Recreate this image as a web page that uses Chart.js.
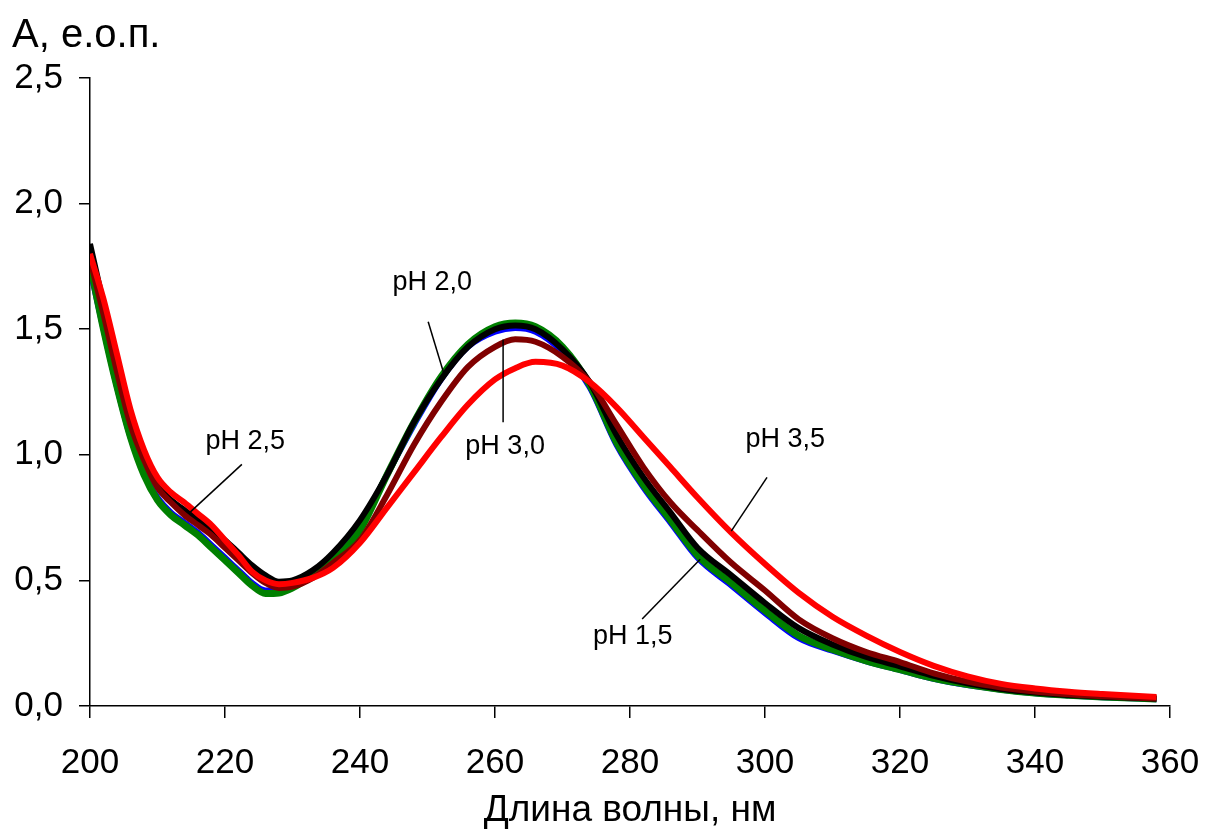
<!DOCTYPE html>
<html>
<head>
<meta charset="utf-8">
<script src="https://cdn.jsdelivr.net/npm/chart.js@4.4.0/dist/chart.umd.min.js"></script>
<style>
  html, body { margin: 0; padding: 0; background: #fff; }
  #wrap { width: 1207px; height: 833px; }
</style>
</head>
<body>
<div id="wrap"><canvas id="spektr"></canvas></div>
<script>
// длины волн, нм
const dlinyVoln = [200, 202, 204, 206, 208, 210, 212, 214, 216, 218, 220, 222, 224, 226, 228, 230, 233, 236, 240, 244, 248, 252, 256, 260, 263, 266, 270, 274, 278, 282, 286, 290, 295, 300, 305, 310, 315, 320, 325, 330, 335, 340, 345, 350, 358];

// оптическая плотность при разных pH
const pH15 = [1.74, 1.50, 1.27, 1.07, 0.93, 0.83, 0.77, 0.73, 0.69, 0.64, 0.59, 0.54, 0.49, 0.46, 0.46, 0.48, 0.53, 0.59, 0.72, 0.92, 1.12, 1.30, 1.43, 1.49, 1.505, 1.49, 1.41, 1.27, 1.04, 0.87, 0.73, 0.59, 0.48, 0.37, 0.27, 0.22, 0.178, 0.143, 0.108, 0.083, 0.065, 0.051, 0.042, 0.035, 0.027];
const pH20 = [1.76, 1.50, 1.27, 1.07, 0.92, 0.82, 0.76, 0.72, 0.68, 0.63, 0.58, 0.53, 0.48, 0.448, 0.45, 0.47, 0.52, 0.58, 0.70, 0.92, 1.13, 1.31, 1.44, 1.51, 1.525, 1.51, 1.43, 1.28, 1.05, 0.88, 0.74, 0.60, 0.49, 0.38, 0.28, 0.225, 0.18, 0.145, 0.11, 0.085, 0.066, 0.052, 0.043, 0.036, 0.028];
const pH25 = [1.84, 1.60, 1.36, 1.15, 0.99, 0.88, 0.82, 0.78, 0.74, 0.70, 0.66, 0.61, 0.56, 0.52, 0.495, 0.50, 0.54, 0.61, 0.74, 0.92, 1.13, 1.30, 1.43, 1.50, 1.515, 1.50, 1.42, 1.29, 1.08, 0.91, 0.77, 0.63, 0.52, 0.41, 0.31, 0.245, 0.195, 0.158, 0.12, 0.09, 0.068, 0.054, 0.044, 0.037, 0.029];
const pH30 = [1.78, 1.56, 1.33, 1.12, 0.98, 0.87, 0.81, 0.76, 0.72, 0.68, 0.63, 0.58, 0.53, 0.49, 0.47, 0.475, 0.51, 0.57, 0.66, 0.84, 1.04, 1.21, 1.35, 1.43, 1.46, 1.45, 1.39, 1.29, 1.12, 0.95, 0.81, 0.70, 0.57, 0.46, 0.345, 0.27, 0.215, 0.175, 0.13, 0.097, 0.074, 0.058, 0.047, 0.039, 0.030];
const pH35 = [1.80, 1.62, 1.40, 1.18, 1.02, 0.91, 0.85, 0.81, 0.765, 0.72, 0.66, 0.60, 0.535, 0.50, 0.485, 0.49, 0.51, 0.55, 0.65, 0.79, 0.93, 1.07, 1.20, 1.30, 1.345, 1.37, 1.355, 1.29, 1.19, 1.07, 0.95, 0.83, 0.69, 0.565, 0.45, 0.355, 0.28, 0.215, 0.16, 0.118, 0.088, 0.07, 0.057, 0.048, 0.036];

// подписи кривых: текст, центр текста и выноска (в единицах осей)
const podpisi = ['pH 2,0', 'pH 3,0', 'pH 2,5', 'pH 3,5', 'pH 1,5'];
const podpisX = [250.7, 261.5, 223.0, 303.0, 280.4];
const podpisY = [1.685, 1.033, 1.053, 1.061, 0.278];
const vynoskaOt = [[250.1, 1.53], [261.2, 1.13], [222.5, 0.962], [300.3, 0.91], [281.8, 0.346]];
const vynoskaDo = [[252.6, 1.308], [261.2, 1.459], [214.8, 0.771], [295.0, 0.696], [290.4, 0.584]];

const shrift = '"Liberation Sans", Arial, sans-serif';

function tochki(ys) {
  return dlinyVoln.map((x, i) => ({ x: x, y: ys[i] }));
}

function nabor(ys, cvet, tolshina, poryadok) {
  return {
    data: tochki(ys),
    borderColor: cvet,
    borderWidth: tolshina,
    pointRadius: 0,
    fill: false,
    cubicInterpolationMode: 'monotone',
    order: poryadok
  };
}

// подпись оси Y сверху слева и подписи кривых с выносками
const podpisiPlugin = {
  id: 'podpisi',
  afterDatasetsDraw(chart) {
    const ctx = chart.ctx;
    const sx = chart.scales.x, sy = chart.scales.y;
    ctx.save();
    ctx.strokeStyle = '#000';
    ctx.lineWidth = 1.5;
    for (let i = 0; i < podpisi.length; i++) {
      ctx.beginPath();
      ctx.moveTo(sx.getPixelForValue(vynoskaOt[i][0]), sy.getPixelForValue(vynoskaOt[i][1]));
      ctx.lineTo(sx.getPixelForValue(vynoskaDo[i][0]), sy.getPixelForValue(vynoskaDo[i][1]));
      ctx.stroke();
    }
    ctx.fillStyle = '#000';
    ctx.font = '27px ' + shrift;
    ctx.textAlign = 'center';
    ctx.textBaseline = 'middle';
    for (let i = 0; i < podpisi.length; i++) {
      ctx.fillText(podpisi[i], sx.getPixelForValue(podpisX[i]), sy.getPixelForValue(podpisY[i]));
    }
    ctx.font = '40px ' + shrift;
    ctx.textAlign = 'left';
    ctx.textBaseline = 'alphabetic';
    ctx.fillText('А, е.о.п.', 12, 47);
    ctx.restore();
  }
};

const config = {
  type: 'line',
  data: {
    datasets: [
      nabor(pH15, '#0000ff', 6, 5),
      nabor(pH20, '#008000', 7, 4),
      nabor(pH25, '#000000', 6, 3),
      nabor(pH30, '#800000', 6, 2),
      nabor(pH35, '#ff0000', 6, 1)
    ]
  },
  options: {
    responsive: true,
    maintainAspectRatio: false,
    animation: false,
    layout: { padding: { top: 78, right: 37, left: 0, bottom: 0 } },
    plugins: {
      legend: { display: false },
      tooltip: { enabled: false }
    },
    scales: {
      x: {
        type: 'linear',
        min: 200,
        max: 360,
        ticks: {
          stepSize: 20,
          padding: 24,
          color: '#000',
          font: { family: shrift, size: 35 }
        },
        grid: { drawOnChartArea: false, drawTicks: true, tickLength: 12, color: '#000', lineWidth: 1.5 },
        border: { display: true, color: '#000', width: 1.5 },
        title: {
          display: true,
          text: 'Длина волны, нм',
          color: '#000',
          font: { family: shrift, size: 37 },
          padding: { top: 0, bottom: 0 }
        },
        afterFit(scale) {
          scale.height = 127;
          scale.paddingLeft = 0;
          scale.paddingRight = 0;
        }
      },
      y: {
        min: 0,
        max: 2.5,
        ticks: {
          stepSize: 0.5,
          padding: 16,
          color: '#000',
          font: { family: shrift, size: 35 },
          callback: (v) => v.toFixed(1).replace('.', ',')
        },
        grid: { drawOnChartArea: false, drawTicks: true, tickLength: 11, color: '#000', lineWidth: 1.5 },
        border: { display: true, color: '#000', width: 1.5 },
        afterFit(scale) { scale.width = 90; }
      }
    }
  },
  plugins: [podpisiPlugin]
};

const grafik = new Chart(document.getElementById('spektr'), config);
</script>
</body>
</html>
